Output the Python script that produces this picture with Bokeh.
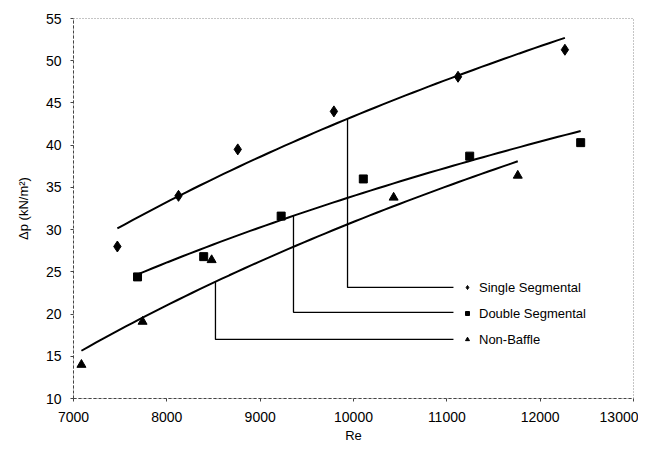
import numpy as np
from bokeh.plotting import figure
from bokeh.models import Legend, LegendItem, Range1d, FixedTicker
from bokeh.embed import file_html
from bokeh.resources import INLINE

# ---- data ----
single_re = [7470, 8125, 8760, 9790, 11120, 12265]
single_dp = [28.0, 34.0, 39.5, 44.0, 48.1, 51.3]

double_re = [7686, 8395, 9225, 10105, 11245, 12434]
double_dp = [24.4, 26.8, 31.6, 36.0, 38.7, 40.3]

nobaffle_re = [7085, 7740, 8480, 10430, 11760]
nobaffle_dp = [14.0, 19.1, 26.4, 33.8, 36.4]

names = ["Single Segmental", "Double Segmental", "Non-Baffle"]
x_ticks = [7000, 8000, 9000, 10000, 11000, 12000, 13000]
y_ticks = [10, 15, 20, 25, 30, 35, 40, 45, 50, 55]

# legend leader lines: Re where each leader leaves its trend line, and the legend row level
leader_re = [9936, 9357, 8521]
leader_row_dp = [23.15, 20.2, 17.0]
leader_end_re = 11071

FONT = "Liberation Sans"

p = figure(width=638, height=446, output_backend="svg", toolbar_location=None,
           x_range=Range1d(7000, 13000), y_range=Range1d(10, 55),
           min_border_left=73, min_border_right=5, min_border_top=18, min_border_bottom=48)
p.xgrid.visible = False
p.ygrid.visible = False
p.outline_line_color = "#8a8a8a"
p.outline_line_dash = "1 2"
p.outline_line_width = 1

series = [(single_re, single_dp, "diamond", 11),
          (double_re, double_dp, "square", 8),
          (nobaffle_re, nobaffle_dp, "triangle", 9)]

renderers = []
for (xs, ys, marker, size), lead_x, row_y in zip(series, leader_re, leader_row_dp):
    xs = np.array(xs, dtype=float)
    ys = np.array(ys, dtype=float)
    # logarithmic trendline (least squares fit of the data, as in the source chart)
    a, b = np.polyfit(np.log(xs), ys, 1)
    xf = np.linspace(xs.min(), xs.max(), 60)
    p.line(xf, a * np.log(xf) + b, line_color="black", line_width=2)
    r = p.scatter(xs, ys, marker=marker, size=size, fill_color="black", line_color="black")
    renderers.append(r)
    # leader line from trend line down to legend row, then across to the legend
    y_on_line = a * np.log(lead_x) + b
    p.line([lead_x, lead_x, leader_end_re], [y_on_line, row_y, row_y],
           line_color="black", line_width=1.3)

legend = Legend(items=[LegendItem(label=n, renderers=[r]) for n, r in zip(names, renderers)],
                location=(389, 49), orientation="vertical",
                glyph_width=10, glyph_height=20, label_height=20, spacing=6,
                label_standoff=7, padding=0, margin=0,
                border_line_alpha=0, background_fill_alpha=0,
                label_text_font=FONT, label_text_font_size="13px", label_text_color="black")
p.add_layout(legend, "center")

for ax in (p.xaxis[0], p.yaxis[0]):
    ax.axis_line_color = "#444444"
    ax.axis_line_dash = "3 2"
    ax.major_tick_in = 0
    ax.major_tick_out = 3
    ax.minor_tick_line_color = None
    ax.major_tick_line_color = "#444444"
    ax.major_label_text_font = FONT
    ax.major_label_text_font_size = "14px"
    ax.major_label_text_color = "black"
    ax.axis_label_text_font = FONT
    ax.axis_label_text_font_size = "13px"
    ax.axis_label_text_font_style = "normal"
    ax.axis_label_text_color = "black"

p.xaxis.ticker = FixedTicker(ticks=x_ticks)
p.yaxis.ticker = FixedTicker(ticks=y_ticks)
p.xaxis.major_label_standoff = 10
p.yaxis.major_label_standoff = 9
p.xaxis.axis_label = "Re"
p.xaxis.axis_label_standoff = 3
p.yaxis.axis_label = "Δp (kN/m²)"
p.yaxis.axis_label_standoff = 12

open("out.html", "w").write(file_html(p, INLINE))
